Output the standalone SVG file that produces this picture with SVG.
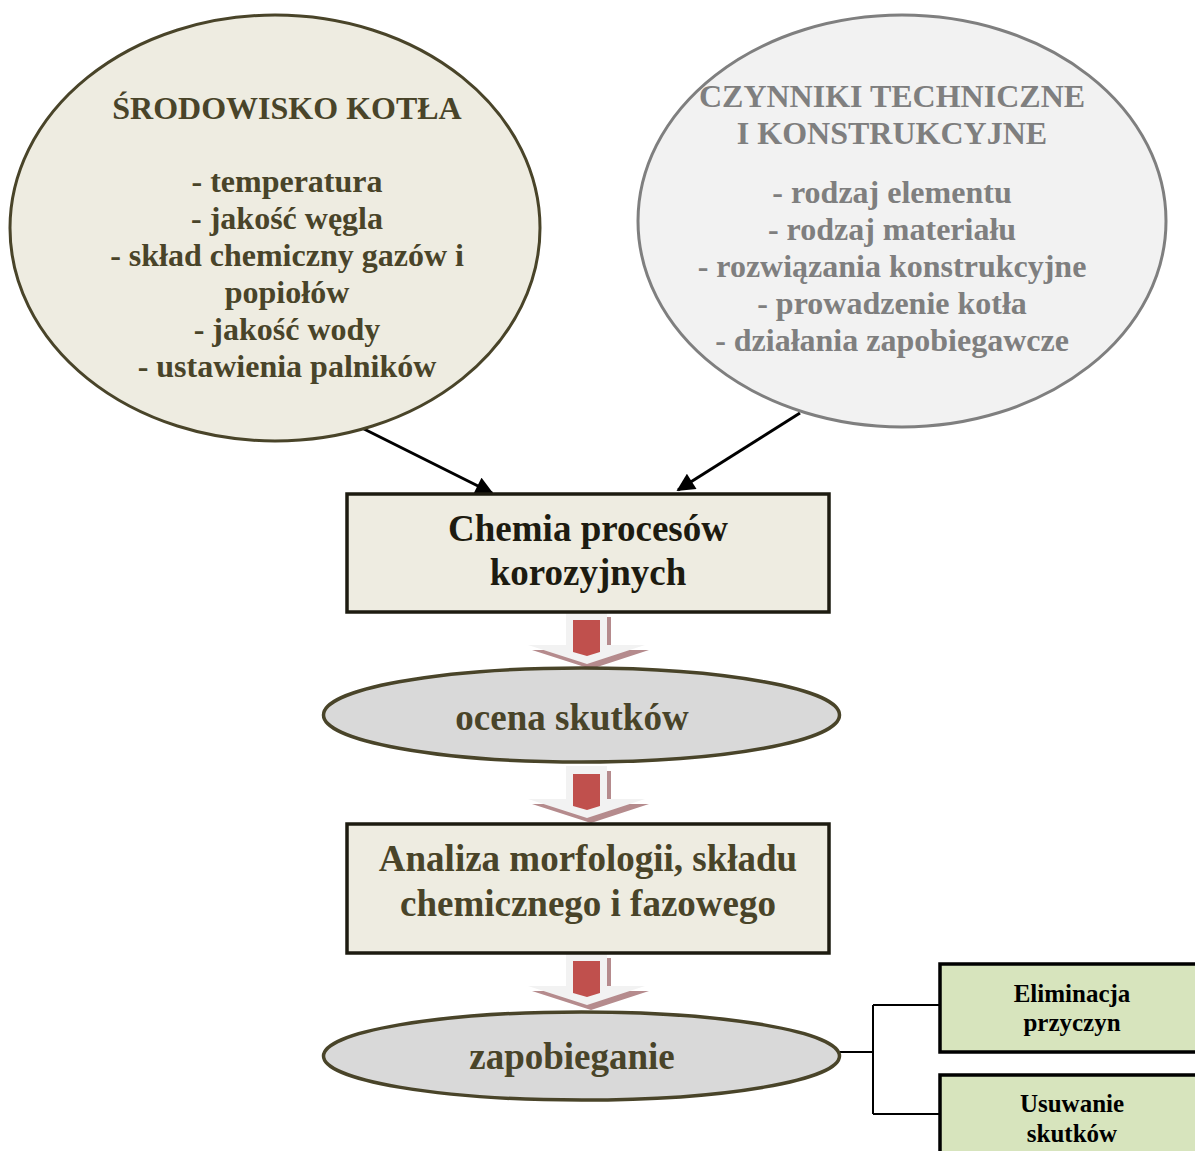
<svg xmlns="http://www.w3.org/2000/svg" xmlns:xlink="http://www.w3.org/1999/xlink" width="1195" height="1151" viewBox="0 0 1195 1151">
<style>
text { font-family: "Liberation Serif", "Times New Roman", serif; font-weight: bold; text-anchor: middle; }
.env { fill: #eeece1; stroke: #494429; stroke-width: 3; }
.envt { fill: #494429; font-size: 32px; }
.tech { fill: #f2f2f2; stroke: #7f7f7f; stroke-width: 3; }
.techt { fill: #7f7f7f; font-size: 32px; }
.box { fill: #eeece1; stroke: #1d1b10; stroke-width: 3.5; }
.oval { fill: #d9d9d9; stroke: #494429; stroke-width: 3.5; }
.big { font-size: 37px; }
.green { fill: #d7e4bd; stroke: #000; stroke-width: 3.5; }
.gt { fill: #000; font-size: 25px; }
.conn { stroke: #000; stroke-width: 3; fill: none; }
.br { stroke: #000; stroke-width: 2; fill: none; }
</style>
<defs>
<marker id="ah" viewBox="0 0 10 10" refX="9" refY="5" markerWidth="6.5" markerHeight="6" orient="auto" markerUnits="strokeWidth">
<path d="M0,0 L10,5 L0,10 Z" fill="#000"/>
</marker>
<g id="blk">
<path d="M-21,0 L20,0 L20,33 L58,33 L0,52 L-59,33 L-21,33 Z" fill="#b58b8d" transform="translate(4,5)"/>
<path d="M-21,0 L20,0 L20,33 L58,33 L0,52 L-59,33 L-21,33 Z" fill="#f2f2f2"/>
<path d="M-14,8 L13,8 L13,40 L0,44 L-14,40 Z" fill="#c0504d"/>
</g>
</defs>

<g id="connectors">
<line class="conn" x1="358" y1="426" x2="492" y2="493" marker-end="url(#ah)"/>
<line class="conn" x1="800" y1="413" x2="678" y2="490" marker-end="url(#ah)"/>
<use xlink:href="#blk" href="#blk" transform="translate(587,612)"/>
<use xlink:href="#blk" href="#blk" transform="translate(587,766)"/>
<use xlink:href="#blk" href="#blk" transform="translate(587,953)"/>
<path class="br" d="M840,1052 H873 M873,1005 V1114 M873,1005 H940 M873,1114 H940"/>
</g>

<g id="srodowisko">
<ellipse class="env" cx="275" cy="228" rx="265" ry="213"/>
<text class="envt" x="287" y="119">ŚRODOWISKO KOTŁA</text>
<text class="envt" x="287" y="192">- temperatura</text>
<text class="envt" x="287" y="229">- jakość węgla</text>
<text class="envt" x="287" y="266">- skład chemiczny gazów i</text>
<text class="envt" x="287" y="303">popiołów</text>
<text class="envt" x="287" y="340">- jakość wody</text>
<text class="envt" x="287" y="377">- ustawienia palników</text>
</g>

<g id="czynniki">
<ellipse class="tech" cx="902" cy="221" rx="264" ry="206"/>
<text class="techt" x="892" y="107">CZYNNIKI TECHNICZNE</text>
<text class="techt" x="892" y="144">I KONSTRUKCYJNE</text>
<text class="techt" x="892" y="203">- rodzaj elementu</text>
<text class="techt" x="892" y="240">- rodzaj materiału</text>
<text class="techt" x="892" y="277">- rozwiązania konstrukcyjne</text>
<text class="techt" x="892" y="314">- prowadzenie kotła</text>
<text class="techt" x="892" y="351">- działania zapobiegawcze</text>
</g>

<g id="chemia">
<rect class="box" x="347" y="494" width="482" height="118"/>
<text class="big" fill="#1d1b10" x="588" y="541">Chemia procesów</text>
<text class="big" fill="#1d1b10" x="588" y="585">korozyjnych</text>
</g>

<g id="ocena">
<ellipse class="oval" cx="581.5" cy="715" rx="258" ry="47"/>
<text class="big" fill="#494429" x="572" y="730">ocena skutków</text>
</g>

<g id="analiza">
<rect class="box" x="347" y="824" width="482" height="129"/>
<text class="big" fill="#494429" x="588" y="871">Analiza morfologii, składu</text>
<text class="big" fill="#494429" x="588" y="916">chemicznego i fazowego</text>
</g>

<g id="zapobieganie">
<ellipse class="oval" cx="581.5" cy="1056" rx="258" ry="44"/>
<text class="big" fill="#494429" x="572" y="1069">zapobieganie</text>
</g>

<g id="eliminacja">
<rect class="green" x="940" y="964" width="270" height="88"/>
<text class="gt" x="1072" y="1002">Eliminacja</text>
<text class="gt" x="1072" y="1031">przyczyn</text>
</g>

<g id="usuwanie">
<rect class="green" x="940" y="1075" width="270" height="100"/>
<text class="gt" x="1072" y="1112">Usuwanie</text>
<text class="gt" x="1072" y="1142">skutków</text>
</g>
</svg>
